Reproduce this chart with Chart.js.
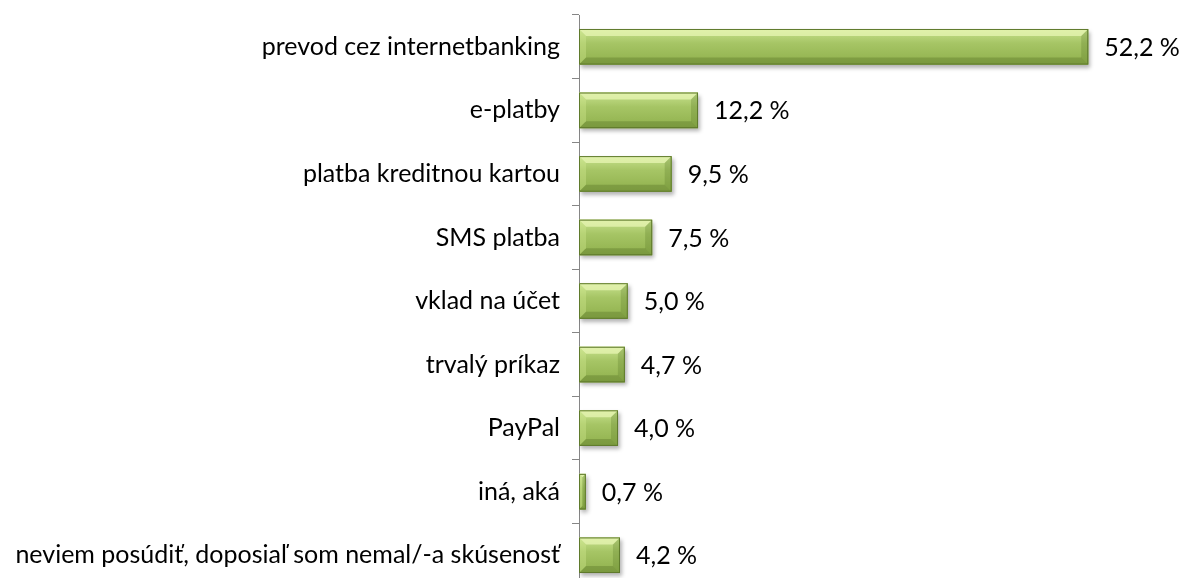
<!DOCTYPE html>
<html lang="sk">
<head>
  <meta charset="UTF-8" />
  <title>Spôsob platby</title>
  <script src="https://cdn.jsdelivr.net/npm/chart.js"></script>
  <style>
    body { margin: 0; background: #fff; overflow: hidden; }
  </style>
</head>
<body>

<canvas id="payChart" width="1179" height="600"></canvas>

<script>
  const categories = [
    'prevod cez internetbanking',
    'e-platby',
    'platba kreditnou kartou',
    'SMS platba',
    'vklad na účet',
    'trvalý príkaz',
    'PayPal',
    'iná, aká',
    'neviem posúdiť, doposiaľ som nemal/-a skúsenosť'
  ];
  const shares = [52.2, 12.2, 9.5, 7.5, 5.0, 4.7, 4.0, 0.7, 4.2];

  const fmt = v => v.toFixed(1).replace('.', ',') + ' %';
  const FONT = 'Lato, "Open Sans", sans-serif';

  // tieň pod stĺpcami
  const shadowPlugin = {
    id: 'barShadow',
    beforeDatasetDraw(chart) {
      const c = chart.ctx;
      c.save();
      c.shadowColor = 'rgba(0,0,0,0.3)';
      c.shadowBlur = 4;
      c.shadowOffsetX = 2;
      c.shadowOffsetY = 3;
    },
    afterDatasetDraw(chart) {
      chart.ctx.restore();
    }
  };

  // prechod farby, skosené hrany + popisky hodnôt
  const bevelPlugin = {
    id: 'bevel',
    afterDatasetsDraw(chart) {
      const c = chart.ctx;
      const meta = chart.getDatasetMeta(0);
      meta.data.forEach((bar, i) => {
        const x0 = bar.base, x1 = bar.x;
        const y0 = bar.y - bar.height / 2, y1 = bar.y + bar.height / 2;
        const b = Math.min(7, (x1 - x0) / 2, bar.height / 2);
        c.save();
        const g = c.createLinearGradient(0, y0, 0, y1);
        g.addColorStop(0, '#c8e28e');
        g.addColorStop(0.4, '#a6c565');
        g.addColorStop(1, '#8fb04c');
        c.fillStyle = g;
        c.fillRect(x0, y0, x1 - x0, y1 - y0);
        // horná hrana
        c.fillStyle = 'rgba(232,246,180,0.75)';
        c.beginPath();
        c.moveTo(x0, y0); c.lineTo(x1, y0); c.lineTo(x1 - b, y0 + b); c.lineTo(x0 + b, y0 + b);
        c.closePath(); c.fill();
        // ľavá hrana
        c.fillStyle = 'rgba(215,238,150,0.35)';
        c.beginPath();
        c.moveTo(x0, y0); c.lineTo(x0 + b, y0 + b); c.lineTo(x0 + b, y1 - b); c.lineTo(x0, y1);
        c.closePath(); c.fill();
        // dolná hrana
        c.fillStyle = 'rgba(70,95,25,0.28)';
        c.beginPath();
        c.moveTo(x0, y1); c.lineTo(x0 + b, y1 - b); c.lineTo(x1 - b, y1 - b); c.lineTo(x1, y1);
        c.closePath(); c.fill();
        // pravá hrana
        c.fillStyle = 'rgba(80,110,30,0.25)';
        c.beginPath();
        c.moveTo(x1, y0); c.lineTo(x1, y1); c.lineTo(x1 - b, y1 - b); c.lineTo(x1 - b, y0 + b);
        c.closePath(); c.fill();
        // obrys
        c.strokeStyle = '#5f7a2c';
        c.lineWidth = 1;
        c.strokeRect(x0 + 0.5, y0 + 0.5, x1 - x0 - 1, y1 - y0 - 1);
        // hodnota
        c.fillStyle = '#000';
        c.font = '25px ' + FONT;
        c.textAlign = 'left';
        c.textBaseline = 'middle';
        c.fillText(fmt(shares[i]), x1 + 16, bar.y + 1);
        c.restore();
      });
    }
  };

  const ctx = document.getElementById('payChart').getContext('2d');

  new Chart(ctx, {
    type: 'bar',
    data: {
      labels: categories,
      datasets: [{
        data: shares,
        backgroundColor: '#9bbb59',
        borderWidth: 0,
        categoryPercentage: 1,
        barPercentage: 0.56
      }]
    },
    options: {
      indexAxis: 'y',
      animation: false,
      responsive: false,
      layout: { padding: { top: 15, bottom: 13, left: 0, right: 0 } },
      plugins: {
        legend: { display: false },
        tooltip: { enabled: false }
      },
      scales: {
        x: {
          display: false,
          min: 0,
          max: 61.5
        },
        y: {
          afterFit(scale) {
            scale.width = 579;
            scale.paddingTop = 0;
            scale.paddingBottom = 0;
          },
          border: { color: '#868686', width: 1 },
          grid: {
            drawOnChartArea: false,
            tickLength: 7,
            color: '#868686',
            offset: true
          },
          ticks: {
            color: '#000',
            padding: 12,
            font: { family: FONT, size: 25 }
          }
        }
      }
    },
    plugins: [shadowPlugin, bevelPlugin]
  });
</script>

</body>
</html>
